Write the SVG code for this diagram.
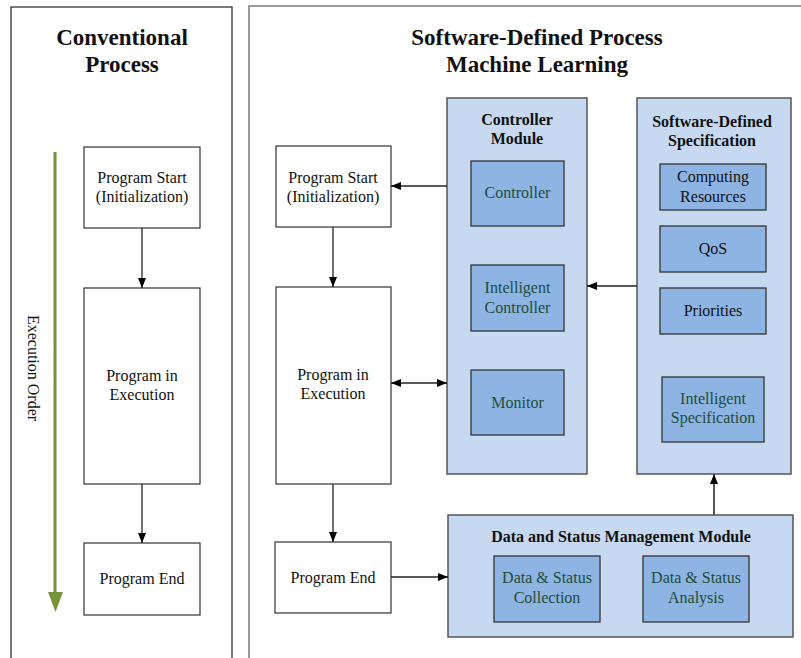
<svg xmlns="http://www.w3.org/2000/svg" width="801" height="658" viewBox="0 0 801 658" font-family="'Liberation Serif','Times New Roman',serif">
<style>
text{font-family:"Liberation Serif","Times New Roman",serif;text-anchor:middle;fill:#111}
.title{font-size:23px;font-weight:bold}
.mtitle{font-size:16px;font-weight:bold}
.lbl{font-size:16px}
.g{fill:#1E4D3A}
.panel{fill:#fff;stroke:#333;stroke-width:1.3}
.box{fill:#fff;stroke:#333;stroke-width:1.2}
.mod{fill:#C6D9F1;stroke:#555;stroke-width:1.5}
.sub{fill:#8EB4E3;stroke:#333;stroke-width:1.3}
.conn{stroke:#222;stroke-width:1.3;fill:none}
</style>
<defs>
<marker id="ah" markerWidth="10" markerHeight="8" refX="10" refY="4" orient="auto" markerUnits="userSpaceOnUse">
<path d="M0,0 L10,4 L0,8 Z" fill="#000"/>
</marker>
<marker id="ahs" markerWidth="10" markerHeight="8" refX="0" refY="4" orient="auto" markerUnits="userSpaceOnUse">
<path d="M10,0 L0,4 L10,8 Z" fill="#000"/>
</marker>
</defs>
<rect width="801" height="658" fill="#fff"/>
<g id="panel-conventional">
<rect class="panel" x="11" y="7" width="221" height="660"/>
<text class="title" x="122" y="45">Conventional</text>
<text class="title" x="122" y="72">Process</text>
</g>
<g id="panel-sdp">
<rect class="panel" x="249" y="6" width="570" height="660" style="stroke:#666"/>
<text class="title" x="537" y="45">Software-Defined Process</text>
<text class="title" x="537" y="72">Machine Learning</text>
</g>
<g id="execution-order">
<line x1="55" y1="152" x2="55" y2="594" stroke="#77933C" stroke-width="3"/>
<path d="M48,592 L63,592 L55.5,612 Z" fill="#77933C"/>
<text class="lbl" transform="translate(28,368) rotate(90)">Execution Order</text>
</g>
<g id="c-start">
<rect class="box" x="84" y="147" width="116" height="81"/>
<text class="lbl" x="142" y="183">Program Start</text>
<text class="lbl" x="142" y="202">(Initialization)</text>
</g>
<g id="c-exec">
<rect class="box" x="84" y="288" width="116" height="196"/>
<text class="lbl" x="142" y="381">Program in</text>
<text class="lbl" x="142" y="400">Execution</text>
</g>
<g id="c-end">
<rect class="box" x="84" y="543" width="116" height="72"/>
<text class="lbl" x="142" y="584">Program End</text>
</g>
<g id="s-start">
<rect class="box" x="276" y="146" width="115" height="81"/>
<text class="lbl" x="333" y="183">Program Start</text>
<text class="lbl" x="333" y="202">(Initialization)</text>
</g>
<g id="s-exec">
<rect class="box" x="276" y="287" width="115" height="197"/>
<text class="lbl" x="333" y="380">Program in</text>
<text class="lbl" x="333" y="399">Execution</text>
</g>
<g id="s-end">
<rect class="box" x="275" y="542" width="116" height="71"/>
<text class="lbl" x="333" y="583">Program End</text>
</g>
<g id="controller-module">
<rect class="mod" x="447" y="98" width="140" height="376"/>
<text class="mtitle" x="517" y="125">Controller</text>
<text class="mtitle" x="517" y="144">Module</text>
<g id="controller">
<rect class="sub" x="471" y="161" width="93" height="65"/>
<text class="lbl g" x="517.5" y="198">Controller</text>
</g>
<g id="intelligent-controller">
<rect class="sub" x="471" y="265" width="93" height="66"/>
<text class="lbl g" x="517.5" y="293">Intelligent</text>
<text class="lbl g" x="517.5" y="313">Controller</text>
</g>
<g id="monitor">
<rect class="sub" x="471" y="370" width="93" height="65"/>
<text class="lbl g" x="517.5" y="408">Monitor</text>
</g>
</g>
<g id="spec-module">
<rect class="mod" x="637" y="98" width="154" height="376"/>
<text class="mtitle" x="712" y="127">Software-Defined</text>
<text class="mtitle" x="712" y="146">Specification</text>
<g id="computing-resources">
<rect class="sub" x="660" y="164" width="106" height="46"/>
<text class="lbl" x="713" y="182">Computing</text>
<text class="lbl" x="713" y="202">Resources</text>
</g>
<g id="qos">
<rect class="sub" x="660" y="226" width="106" height="46"/>
<text class="lbl" x="713" y="254">QoS</text>
</g>
<g id="priorities">
<rect class="sub" x="660" y="288" width="106" height="46"/>
<text class="lbl" x="713" y="316">Priorities</text>
</g>
<g id="intelligent-spec">
<rect class="sub" x="662" y="377" width="102" height="65"/>
<text class="lbl g" x="713" y="404">Intelligent</text>
<text class="lbl g" x="713" y="423">Specification</text>
</g>
</g>
<g id="data-module">
<rect class="mod" x="448" y="515" width="345" height="122"/>
<text class="mtitle" x="621" y="542">Data and Status Management Module</text>
<g id="ds-collection">
<rect class="sub" x="494" y="556" width="106" height="66"/>
<text class="lbl g" x="547" y="583">Data &amp; Status</text>
<text class="lbl g" x="547" y="603">Collection</text>
</g>
<g id="ds-analysis">
<rect class="sub" x="643" y="556" width="106" height="66"/>
<text class="lbl g" x="696" y="583">Data &amp; Status</text>
<text class="lbl g" x="696" y="603">Analysis</text>
</g>
</g>
<g id="connectors">
<line class="conn" x1="142" y1="228" x2="142" y2="288" marker-end="url(#ah)"/>
<line class="conn" x1="142" y1="484" x2="142" y2="543" marker-end="url(#ah)"/>
<line class="conn" x1="447" y1="186" x2="391" y2="186" marker-end="url(#ah)"/>
<line class="conn" x1="333" y1="227" x2="333" y2="287" marker-end="url(#ah)"/>
<line class="conn" x1="391" y1="383" x2="447" y2="383" marker-start="url(#ahs)" marker-end="url(#ah)"/>
<line class="conn" x1="333" y1="484" x2="333" y2="542" marker-end="url(#ah)"/>
<line class="conn" x1="391" y1="577" x2="448" y2="577" marker-end="url(#ah)"/>
<line class="conn" x1="714" y1="515" x2="714" y2="474" marker-end="url(#ah)" style="stroke:#555;stroke-width:2"/>
<line class="conn" x1="637" y1="286" x2="587" y2="286" marker-end="url(#ah)"/>
</g>
</svg>
